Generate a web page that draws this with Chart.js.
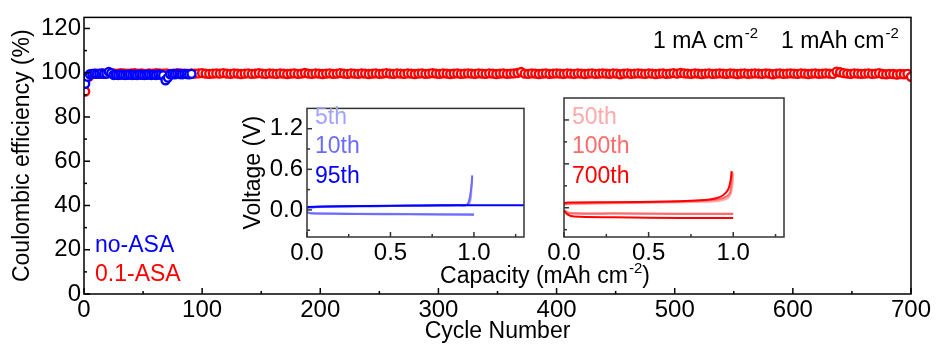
<!DOCTYPE html>
<html>
<head>
<meta charset="utf-8">
<script src="https://cdn.jsdelivr.net/npm/chart.js@4/dist/chart.umd.min.js"></script>
<style>
  html, body { margin: 0; padding: 0; background: #fff; }
  #wrap { position: relative; width: 938px; height: 345px; }
  canvas { position: absolute; }
  #main { left: 0; top: 0; }
  #insetA { left: 230px; top: 90px; }
  #insetB { left: 530px; top: 90px; }
</style>
</head>
<body>
<div id="wrap">
  <canvas id="main" width="938" height="345"></canvas>
  <canvas id="insetA" width="300" height="175"></canvas>
  <canvas id="insetB" width="260" height="175"></canvas>
</div>
<script>
// main plot: coulombic efficiency, one point every few cycles
const redStart = 1, redStep = 3;
const redCE = [
  91.5, 98.1, 99.4, 99.6, 99.5, 99.7, 99.6, 99.8, 99.7, 99.6, 99.8, 99.7, 99.6, 99.7, 99.8, 99.6, 99.7, 99.5, 99.7, 99.6,
  99.8, 99.7, 99.6, 99.7, 99.5, 99.6, 99.8, 99.7, 99.6, 99.5, 99.7, 99.6, 99.7, 99.8, 99.6, 99.5, 99.6, 99.7, 99.6, 99.8,
  99.6, 99.5, 99.7, 99.6, 99.4, 99.6, 99.7, 99.5, 99.6, 99.8, 99.6, 99.5, 99.7, 99.6, 99.5, 99.7, 99.6, 99.4, 99.6, 99.7,
  99.5, 99.6, 99.9, 99.6, 99.5, 99.7, 99.6, 99.4, 99.6, 99.7, 99.5, 99.6, 99.8, 99.6, 99.5, 99.7, 99.6, 99.5, 99.7, 99.6,
  99.4, 99.6, 99.7, 99.5, 99.6, 99.8, 99.6, 99.5, 99.7, 99.6, 99.5, 99.7, 99.6, 99.4, 99.6, 99.7, 99.5, 99.6, 99.8, 99.6,
  99.5, 99.7, 99.6, 99.4, 99.6, 99.7, 99.5, 99.6, 99.7, 99.6, 99.5, 99.7, 99.6, 99.5, 99.7, 99.6, 99.4, 99.6, 99.7, 99.5,
  99.6, 99.7, 99.9, 100.3, 99.6, 99.5, 99.7, 99.6, 99.4, 99.6, 99.7, 99.5, 99.6, 99.7, 99.6, 99.5, 99.7, 99.6, 99.5, 99.7,
  99.6, 99.4, 99.6, 99.7, 99.5, 99.6, 99.7, 99.6, 99.5, 99.7, 99.6, 99.3, 99.6, 99.7, 99.5, 99.6, 99.7, 99.6, 99.5, 99.7,
  99.6, 99.4, 99.6, 99.7, 99.5, 99.6, 99.8, 99.6, 99.9, 99.7, 99.6, 99.5, 99.7, 99.6, 99.4, 99.6, 99.7, 99.5, 99.6, 99.7,
  99.6, 99.5, 99.7, 99.6, 99.4, 99.6, 99.7, 99.5, 99.6, 99.7, 99.6, 99.5, 99.7, 99.6, 99.3, 99.6, 99.7, 99.5, 99.6, 99.7,
  99.6, 99.5, 99.7, 99.6, 99.4, 99.6, 99.7, 99.5, 99.6, 99.7, 99.6, 99.5, 100.5, 100.2, 99.8, 99.6, 99.5, 99.7, 99.6, 99.5,
  99.6, 99.7, 99.5, 99.6, 99.8, 99.4, 99.3, 99.5, 99.4, 99.2, 99.4, 99.3, 99.5, 98.2
];
const blueStart = 1, blueStep = 2;
const blueCE = [
  95.0, 98.2, 99.3, 99.5, 99.6, 99.5, 99.6, 99.7, 99.5, 99.6, 100.4, 99.8, 99.0, 99.1, 99.0, 99.2, 99.1, 99.0, 99.1, 99.2,
  99.0, 99.1, 99.0, 99.2, 99.1, 99.0, 99.1, 99.2, 99.0, 99.1, 99.0, 99.2, 99.1, 98.8, 96.6, 97.8, 99.3, 99.4, 99.3, 99.5,
  99.4, 99.3, 99.5, 99.4, 99.3, 99.5
];
const xTicks = [0, 100, 200, 300, 400, 500, 600, 700];
const xMinor = [50, 150, 250, 350, 450, 550, 650];
const yTicks = [0, 20, 40, 60, 80, 100, 120];
const yMinor = [10, 30, 50, 70, 90, 110];

// insets: voltage profiles (capacity in mAh cm-2, voltage in V)
const capTicks = [0, 0.5, 1.0];
const capMinor = [0.25, 0.75, 1.25];
const voltTicks = [0, 0.6, 1.2];
const voltMinor = [-0.3, 0.3, 0.9];

const cap5chg = [0, 0.05, 0.2, 0.4, 0.6, 0.8, 0.9, 0.95, 0.97, 0.98, 0.985, 0.99];
const volt5chg = [0.03, 0.04, 0.05, 0.055, 0.06, 0.065, 0.068, 0.07, 0.09, 0.15, 0.3, 0.48];
const cap5dis = [0, 0.02, 0.3, 0.6, 1.0];
const volt5dis = [-0.03, -0.05, -0.055, -0.06, -0.065];
const cap10chg = [0, 0.05, 0.2, 0.4, 0.6, 0.8, 0.9, 0.95, 0.965, 0.975, 0.985, 0.99];
const volt10chg = [0.035, 0.045, 0.05, 0.055, 0.06, 0.065, 0.068, 0.07, 0.1, 0.18, 0.35, 0.51];
const cap10dis = [0, 0.02, 0.3, 0.6, 1.0];
const volt10dis = [-0.035, -0.05, -0.06, -0.065, -0.07];
const cap95 = [0, 0.2, 0.5, 0.8, 1.1, 1.3];
const volt95 = [0.045, 0.055, 0.062, 0.068, 0.07, 0.07];

const cap50chg = [0, 0.05, 0.3, 0.6, 0.8, 0.9, 0.95, 0.98, 0.995, 1.0];
const volt50chg = [0.04, 0.05, 0.06, 0.07, 0.08, 0.09, 0.11, 0.16, 0.3, 0.47];
const cap50dis = [0, 0.03, 0.3, 0.7, 1.0];
const volt50dis = [-0.03, -0.07, -0.075, -0.08, -0.08];
const cap100chg = [0, 0.05, 0.3, 0.6, 0.8, 0.9, 0.95, 0.98, 0.99, 0.995];
const volt100chg = [0.05, 0.06, 0.07, 0.08, 0.095, 0.11, 0.14, 0.2, 0.35, 0.49];
const cap100dis = [0, 0.03, 0.3, 0.7, 1.0];
const volt100dis = [-0.035, -0.075, -0.08, -0.085, -0.085];
const cap700chg = [0, 0.02, 0.3, 0.6, 0.75, 0.85, 0.9, 0.94, 0.97, 0.985, 0.99];
const volt700chg = [0.06, 0.07, 0.075, 0.085, 0.095, 0.11, 0.13, 0.17, 0.25, 0.38, 0.5];
const cap700dis = [0, 0.02, 0.06, 0.3, 0.7, 1.0];
const volt700dis = [-0.04, -0.09, -0.12, -0.13, -0.14, -0.14];

const FONT = "'Liberation Sans', Arial, sans-serif";
Chart.defaults.font.family = FONT;
Chart.defaults.color = '#000';

function cePoints(start, step, vals) {
  return vals.map((v, i) => ({ x: start + i * step, y: v }));
}
function curve(caps, volts) {
  return caps.map((c, i) => ({ x: c, y: volts[i] }));
}
function setTicks(list) {
  return s => { s.ticks = list.map(v => ({ value: v })); };
}

// box around plot area plus inward ticks
const frameTicks = {
  id: 'frameTicks',
  afterDatasetsDraw(chart, args, o) {
    const { ctx, chartArea: a, scales } = chart;
    ctx.save();
    ctx.strokeStyle = o.color;
    ctx.lineWidth = o.width;
    ctx.strokeRect(a.left, a.top, a.right - a.left, a.bottom - a.top);
    const mark = (scale, vals, len) => {
      vals.forEach(v => {
        const p = scale.getPixelForValue(v);
        ctx.beginPath();
        if (scale.axis === 'x') { ctx.moveTo(p, a.bottom); ctx.lineTo(p, a.bottom - len); }
        else { ctx.moveTo(a.left, p); ctx.lineTo(a.left + len, p); }
        ctx.stroke();
      });
    };
    mark(scales.x, o.xMajor, o.major);
    mark(scales.x, o.xMinor, o.minor);
    mark(scales.y, o.yMajor, o.major);
    mark(scales.y, o.yMinor, o.minor);
    ctx.restore();
  }
};

function supText(ctx, x, y, base, sup, size) {
  ctx.font = size + 'px ' + FONT;
  ctx.fillText(base, x, y);
  let w = ctx.measureText(base).width;
  ctx.font = Math.round(size * 0.65) + 'px ' + FONT;
  ctx.fillText(sup, x + w + 1, y - size * 0.42);
  return w + 1 + ctx.measureText(sup).width;
}

const mainLabels = {
  id: 'mainLabels',
  afterDraw(chart) {
    const ctx = chart.ctx;
    ctx.save();
    ctx.textBaseline = 'alphabetic';
    ctx.textAlign = 'left';
    ctx.font = '23px ' + FONT;
    ctx.fillStyle = '#0000ff';
    ctx.fillText('no-ASA', 95, 252);
    ctx.fillStyle = '#ff0000';
    ctx.fillText('0.1-ASA', 95, 281);
    ctx.fillStyle = '#000';
    supText(ctx, 653, 48, '1 mA cm', '-2', 23);
    supText(ctx, 781, 48, '1 mAh cm', '-2', 23);
    // shared inset x title, centred below both insets
    ctx.font = '23px ' + FONT;
    const w1 = ctx.measureText('Capacity (mAh cm').width;
    ctx.font = '15px ' + FONT;
    const w2 = ctx.measureText('-2').width + 1;
    ctx.font = '23px ' + FONT;
    const w3 = ctx.measureText(')').width;
    let x0 = 545 - (w1 + w2 + w3) / 2;
    const w = supText(ctx, x0, 283, 'Capacity (mAh cm', '-2', 23);
    ctx.font = '23px ' + FONT;
    ctx.fillText(')', x0 + w, 283);
    ctx.restore();
  }
};

function insetLabels(items) {
  return {
    id: 'insetLabels',
    afterDraw(chart) {
      const ctx = chart.ctx;
      ctx.save();
      ctx.font = '23px ' + FONT;
      ctx.textAlign = 'left';
      items.forEach(t => { ctx.fillStyle = t[3]; ctx.fillText(t[0], t[1], t[2]); });
      ctx.restore();
    }
  };
}

new Chart(document.getElementById('main'), {
  type: 'scatter',
  data: {
    datasets: [{
      label: 'no-ASA',
      data: cePoints(blueStart, blueStep, blueCE),
      borderColor: '#0000ff',
      backgroundColor: '#ffffff',
      pointRadius: 4,
      borderWidth: 2.4
    }, {
      label: '0.1-ASA',
      data: cePoints(redStart, redStep, redCE),
      borderColor: '#ff0000',
      backgroundColor: '#ffffff',
      pointRadius: 4,
      borderWidth: 2.4
    }]
  },
  options: {
    responsive: false,
    animation: false,
    layout: { padding: { top: 13, right: 27, left: 0, bottom: 0 } },
    plugins: {
      legend: { display: false },
      tooltip: { enabled: false },
      frameTicks: { color: '#000', width: 1.5, major: 6, minor: 3, xMajor: xTicks, xMinor: xMinor, yMajor: yTicks, yMinor: yMinor }
    },
    scales: {
      x: {
        type: 'linear', min: 0, max: 700,
        afterBuildTicks: setTicks(xTicks),
        afterFit: s => { s.height = 51; },
        grid: { display: false, drawTicks: false },
        border: { display: false },
        ticks: { font: { size: 24 }, padding: 2, maxRotation: 0 },
        title: { display: true, text: 'Cycle Number', font: { size: 23 }, padding: { top: 0, bottom: 0 } }
      },
      y: {
        min: 0, max: 125,
        afterBuildTicks: setTicks(yTicks),
        afterFit: s => { s.width = 84; },
        grid: { display: false, drawTicks: false },
        border: { display: false },
        ticks: { font: { size: 24 }, padding: 3 },
        title: { display: true, text: 'Coulombic efficiency (%)', font: { size: 23 }, padding: { top: 9, bottom: 0 } }
      }
    }
  },
  plugins: [frameTicks, mainLabels]
});

function lineSet(data, color) {
  return { data: data, borderColor: color, borderWidth: 2, pointRadius: 0, showLine: true, tension: 0.3, fill: false };
}

function insetOptions(leftW, showY) {
  return {
    responsive: false,
    animation: false,
    layout: { padding: { top: 8, right: 6, left: 0, bottom: 0 } },
    plugins: {
      legend: { display: false },
      tooltip: { enabled: false },
      frameTicks: { color: '#333', width: 1.5, major: 5, minor: 3, xMajor: capTicks, xMinor: capMinor, yMajor: voltTicks, yMinor: voltMinor }
    },
    scales: {
      x: {
        type: 'linear', min: 0, max: 1.3,
        afterBuildTicks: setTicks(capTicks),
        afterFit: s => { s.height = 28; },
        grid: { display: false, drawTicks: false },
        border: { display: false },
        ticks: { font: { size: 24 }, padding: 2, maxRotation: 0, callback: v => v.toFixed(1) }
      },
      y: {
        min: -0.4, max: 1.5,
        afterBuildTicks: setTicks(voltTicks),
        afterFit: s => { s.width = leftW; },
        grid: { display: false, drawTicks: false },
        border: { display: false },
        ticks: { display: showY, font: { size: 24 }, padding: 4, callback: v => v.toFixed(1) },
        title: { display: showY, text: 'Voltage (V)', font: { size: 23 }, padding: { top: 10, bottom: 0 } }
      }
    }
  };
}

new Chart(document.getElementById('insetA'), {
  type: 'scatter',
  data: {
    datasets: [
      lineSet(curve(cap95, volt95), '#0000ff'),
      lineSet(curve(cap10chg, volt10chg), '#6b6bff'),
      lineSet(curve(cap10dis, volt10dis), '#6b6bff'),
      lineSet(curve(cap5chg, volt5chg), '#a3a3ff'),
      lineSet(curve(cap5dis, volt5dis), '#a3a3ff')
    ]
  },
  options: insetOptions(77, true),
  plugins: [frameTicks, insetLabels([
    ['5th', 85, 34, '#a3a3ff'],
    ['10th', 85, 63, '#6b6bff'],
    ['95th', 85, 93, '#0000ff']
  ])]
});

new Chart(document.getElementById('insetB'), {
  type: 'scatter',
  data: {
    datasets: [
      lineSet(curve(cap700chg, volt700chg), '#ff0000'),
      lineSet(curve(cap700dis, volt700dis), '#ff0000'),
      lineSet(curve(cap100chg, volt100chg), '#ff6b6b'),
      lineSet(curve(cap100dis, volt100dis), '#ff6b6b'),
      lineSet(curve(cap50chg, volt50chg), '#ffaaaa'),
      lineSet(curve(cap50dis, volt50dis), '#ffaaaa')
    ]
  },
  options: insetOptions(34, false),
  plugins: [frameTicks, insetLabels([
    ['50th', 42, 34, '#ffaaaa'],
    ['100th', 42, 63, '#ff6b6b'],
    ['700th', 42, 93, '#ff0000']
  ])]
});
</script>
</body>
</html>
